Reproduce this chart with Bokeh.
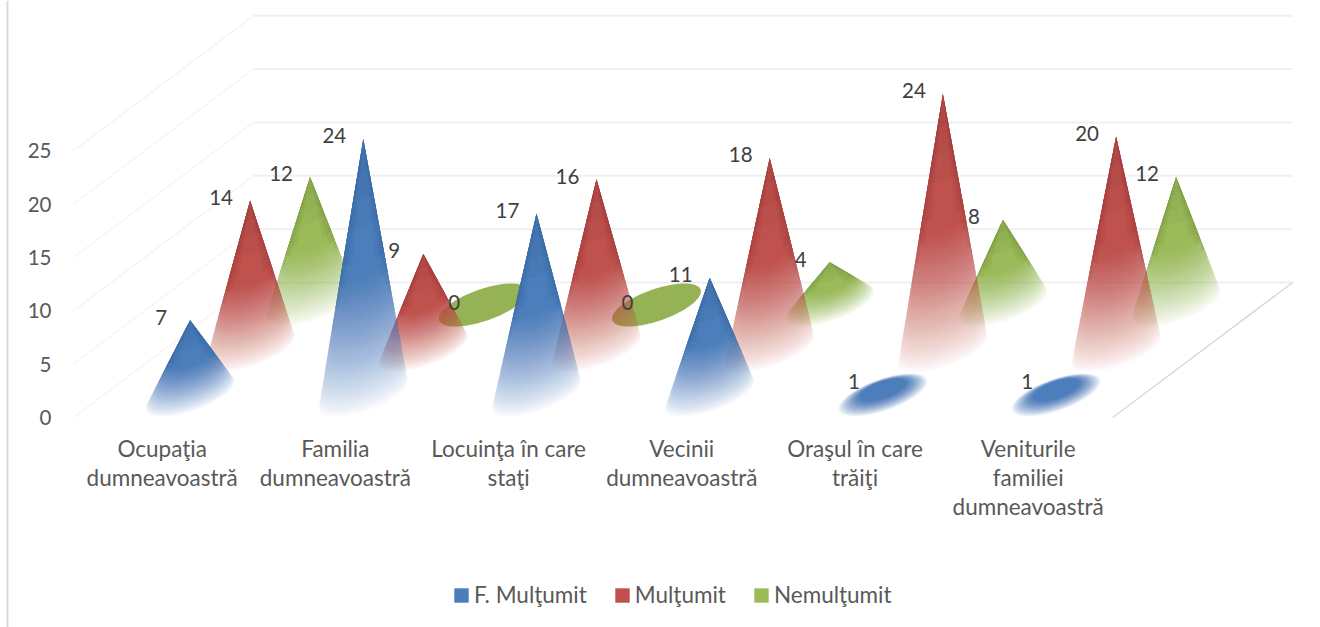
import math
import numpy as np
from bokeh.plotting import figure
from bokeh.models import ColumnDataSource, FixedTicker, Legend, LegendItem
from bokeh.core.properties import value
from bokeh.embed import file_html
from bokeh.resources import INLINE

categories = ["Ocupaţia\ndumneavoastră", "Familia\ndumneavoastră", "Locuinţa în care\nstaţi",
              "Vecinii\ndumneavoastră", "Oraşul în care\ntrăiţi", "Veniturile\nfamiliei\ndumneavoastră"]
series_names = ["F. Mulţumit", "Mulţumit", "Nemulţumit"]
f_multumit = [7, 24, 17, 11, 1, 1]
multumit = [14, 9, 16, 18, 24, 20]
nemultumit = [12, 0, 0, 4, 8, 12]
series_values = [f_multumit, multumit, nemultumit]
series_colors = ["#4a7ebb", "#c0504d", "#9bbb59"]
series_dark = ["#1f4a7d", "#6e1f1d", "#4f6b1e"]
flat_colors = ["#4a7ebb", "#c0504d", "#8fae4c"]
y_ticks = [0, 5, 10, 15, 20, 25]

# Page geometry of the projected chart
W, H = 1320, 627
PX_X0, PX_CAT = 73.0, 173.2          # page x of the front-left corner, px per category
PX_Y0, PX_UNIT = 417.0, 10.67        # page y of value 0 on the front edge, px per value unit
DEPTH_X = 60.0 / PX_CAT              # shift per series row, in category units
DEPTH_Y = 45.0 / PX_UNIT             # shift per series row, in value units
RX = 34.5 / PX_CAT                   # cone base: radius along the category axis
DX, DY = 28.0 / PX_CAT, 21.5 / PX_UNIT  # cone base: radius along the depth axis


def x_of_px(px):
    return (px - PX_X0) / PX_CAT


def y_of_px(py):
    return (PX_Y0 - py) / PX_UNIT


p = figure(width=W, height=H, output_backend="svg", toolbar_location=None,
           x_range=(x_of_px(0), x_of_px(W)), y_range=(y_of_px(H), y_of_px(0)),
           min_border=0, outline_line_color=None, background_fill_color="white")
p.grid.visible = False

n_cat = len(categories)
n_rows = len(series_names)
wall_x, wall_y = n_rows * DEPTH_X, n_rows * DEPTH_Y

# Left wall and back wall gridlines
p.multi_line([[0, wall_x] for _ in y_ticks], [[v, v + wall_y] for v in y_ticks],
             line_color="#efefef", line_width=1)
p.multi_line([[wall_x, n_cat + wall_x] for _ in y_ticks], [[v + wall_y] * 2 for v in y_ticks],
             line_color="#f0f0f0", line_width=2)
p.line([n_cat, n_cat + wall_x], [0, wall_y], line_color="#d9d9d9", line_width=1.5)
p.line([x_of_px(7), x_of_px(7)], [y_of_px(0), y_of_px(H)], line_color="#d9d9d9", line_width=2)


def cone_outline(cx, cy, ax, ay):
    t = np.linspace(0, 2 * math.pi, 145)[:-1]
    ex = cx + RX * np.cos(t) + DX * np.sin(t)
    ey = cy + DY * np.sin(t)
    tx = -RX * np.sin(t) + DX * np.cos(t)
    ty = DY * np.cos(t)
    s = (ex - ax) * ty - (ey - ay) * tx
    low = int(np.argmin(ey))
    mask = np.sign(s) == np.sign(s[low])
    if mask.all():
        return ex, ey, None
    start = next(i for i in range(len(t)) if mask[i] and not mask[i - 1])
    idx = [(start + i) % len(t) for i in range(int(mask.sum()))]
    return ex[idx], ey[idx], True


def target_alpha(f):
    # opacity at fraction f of the way from apex (0) to base rim (1)
    if f <= 0.5:
        return 0.985
    return 0.945 * ((1 - f) / 0.5) ** 0.85 + 0.04


xs, ys, fills, alphas = [], [], [], []
N = 44
for s in reversed(range(n_rows)):
    for c in range(n_cat):
        v = series_values[s][c]
        cx = c + 0.5 + (s + 0.5) * DEPTH_X
        cy = (s + 0.5) * DEPTH_Y
        ax, ay = cx, cy + v
        ex, ey, is_cone = cone_outline(cx, cy, ax, ay)
        if v == 0:
            xs.append(list(ex)); ys.append(list(ey))
            fills.append(flat_colors[s]); alphas.append(0.95)
            continue
        prev = 0.0
        for i in range(N):
            f = 1 - i / (N - 1) * 0.5
            A = target_alpha(f)
            a = 1 - (1 - A) / (1 - prev)
            prev = A
            px_ = ax + (ex - ax) * f
            py_ = ay + (ey - ay) * f
            if is_cone:
                xs.append([ax] + list(px_)); ys.append([ay] + list(py_))
            else:
                xs.append(list(px_)); ys.append(list(py_))
            fills.append(series_colors[s]); alphas.append(a)
        if is_cone:
            m = len(ex)
            for w, lim in [(0.05, 0.78), (0.10, 0.7), (0.16, 0.62), (0.24, 0.54), (0.32, 0.46)]:
                k = max(2, int(m * w))
                for seg in (range(k), range(m - k, m)):
                    sx = [ax + (ex[j] - ax) * lim for j in seg]
                    sy = [ay + (ey[j] - ay) * lim for j in seg]
                    xs.append([ax] + sx); ys.append([ay] + sy)
                    fills.append(series_dark[s]); alphas.append(0.08)
            for lim in (0.12, 0.22, 0.32):
                xs.append([ax] + list(ax + (ex - ax) * lim)); ys.append([ay] + list(ay + (ey - ay) * lim))
                fills.append(series_dark[s]); alphas.append(0.06)

p.patches("xs", "ys", source=ColumnDataSource(dict(xs=xs, ys=ys, fill=fills, alpha=alphas)),
          fill_color="fill", fill_alpha="alpha", line_color=None)

# Data labels
lx, ly, lt = [], [], []
for s in range(n_rows):
    for c in range(n_cat):
        lx.append(c + 0.5 + (s + 0.5) * DEPTH_X)
        ly.append((s + 0.5) * DEPTH_Y + series_values[s][c])
        lt.append(str(series_values[s][c]))
p.text(lx, ly, text=lt, text_font=value("Lato"), text_font_size="20.5px", text_color="#404040",
       text_align="center", text_baseline="middle", x_offset=-29, y_offset=-3)

# Axes (real axes, drawn at fixed places inside the frame)
yax = p.yaxis[0]
yax.fixed_location = x_of_px(61)
yax.ticker = FixedTicker(ticks=y_ticks)
xax = p.xaxis[0]
xax.fixed_location = y_of_px(424)
xax.ticker = FixedTicker(ticks=[c + 0.512 for c in range(n_cat)])
xax.major_label_overrides = {c + 0.512: categories[c] for c in range(n_cat)}
xax.major_label_text_line_height = 1.08
for ax_ in (xax, yax):
    ax_.axis_line_color = None
    ax_.major_tick_line_color = None
    ax_.minor_tick_line_color = None
    ax_.major_label_text_font = "Lato"
    ax_.major_label_text_color = "#595959"
    ax_.major_label_standoff = 4
xax.major_label_text_font_size = "22.5px"
yax.major_label_text_font_size = "20.5px"

# Legend
items = []
for s in range(n_rows):
    r = p.quad(left=[math.nan], right=[math.nan], top=[math.nan], bottom=[math.nan],
               fill_color=series_colors[s], line_color=None)
    items.append(LegendItem(label=series_names[s], renderers=[r]))
legend = Legend(items=items, orientation="horizontal", location=(452, 19), padding=0, margin=0,
                spacing=26, glyph_width=18, glyph_height=18, label_standoff=4,
                label_text_font="Lato", label_text_font_size="22.5px", label_text_color="#595959",
                border_line_color=None, background_fill_alpha=0)
p.add_layout(legend, "center")

# White fade over the lower edge of each legend key
for left in (454, 616, 755):
    for k in range(5):
        p.quad(left=[x_of_px(left - 1)], right=[x_of_px(left + 15)],
               top=[y_of_px(597 + k)], bottom=[y_of_px(604)],
               fill_color="white", fill_alpha=0.22, line_color=None, level="overlay")

out = file_html(p, INLINE)
open("out.html", "w").write(out)
